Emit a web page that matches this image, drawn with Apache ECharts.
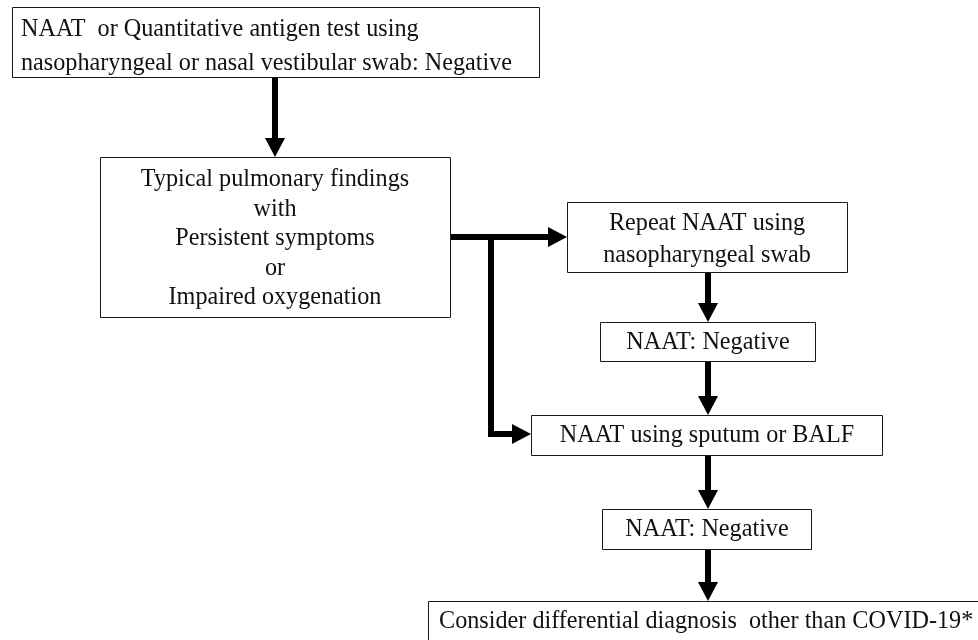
<!DOCTYPE html>
<html>
<head>
<meta charset="utf-8">
<script src="https://cdn.jsdelivr.net/npm/echarts@6/dist/echarts.min.js"></script>
<style>
html,body{margin:0;padding:0;background:#fff;}
#chart{width:978px;height:640px;}
</style>
</head>
<body>
<div id="chart"></div>
<script>
// ---- content ----
const nodeLabels = [
  'NAAT  or Quantitative antigen test using\nnasopharyngeal or nasal vestibular swab: Negative',
  'Typical pulmonary findings\nwith\nPersistent symptoms\nor\nImpaired oxygenation',
  'Repeat NAAT using\nnasopharyngeal swab',
  'NAAT: Negative',
  'NAAT using sputum or BALF',
  'NAAT: Negative',
  'Consider differential diagnosis  other than COVID-19*'
];
// edges: from node -> to node
const edgeFrom = [0, 1, 1, 2, 3, 4, 5];
const edgeTo   = [1, 2, 4, 3, 4, 5, 6];

// ---- layout (pixel space of the 978x640 canvas) ----
const nodeLeft   = [12, 100, 567, 600, 531, 602, 428];
const nodeTop    = [7, 157, 202, 322, 415, 509, 601];
const nodeRight  = [539, 450, 847, 815, 882, 811, 992];
const nodeBottom = [77, 317, 272, 361, 455, 549, 662];
const nodeAlign  = ['left', 'center', 'center', 'center', 'center', 'center', 'left'];
const nodeTextX  = [21, 275, 707, 708, 707, 707, 439];
const nodeTextY  = [46.5, 239, 240, 343, 436, 530, 622];
const nodeLineH  = [34, 29.5, 32, 26, 26, 26, 26];
const edgePaths = [
  [[275, 77], [275, 157]],
  [[450, 237], [567, 237]],
  [[491, 237], [491, 434], [531, 434]],
  [[708, 272], [708, 322]],
  [[708, 361], [708, 415]],
  [[708, 455], [708, 509]],
  [[708, 549], [708, 601]]
];

const FONT = '24.2px "Liberation Serif", "Times New Roman", serif';
const chart = echarts.init(document.getElementById('chart'), null, {renderer: 'canvas'});

function renderNode(params, api) {
  const i = api.value(0);
  const p0 = api.coord([nodeLeft[i], nodeTop[i]]);
  const p1 = api.coord([nodeRight[i], nodeBottom[i]]);
  const tp = api.coord([nodeTextX[i], nodeTextY[i]]);
  const x = Math.round(p0[0]) + 0.5, y = Math.round(p0[1]) + 0.5;
  return {
    type: 'group',
    children: [
      {
        type: 'rect',
        shape: {x: x, y: y, width: Math.round(p1[0] - p0[0]), height: Math.round(p1[1] - p0[1])},
        style: {fill: '#ffffff', stroke: '#1a1a1a', lineWidth: 1}
      },
      {
        type: 'text',
        style: {
          text: nodeLabels[i],
          x: tp[0], y: tp[1],
          font: FONT,
          fill: '#111111',
          align: nodeAlign[i],
          verticalAlign: 'middle',
          lineHeight: nodeLineH[i]
        }
      }
    ]
  };
}

function renderEdge(params, api) {
  const i = api.value(0);
  const pts = edgePaths[i].map(function (p) { return api.coord(p); });
  const n = pts.length;
  const tip = pts[n - 1], prev = pts[n - 2];
  const dx = tip[0] - prev[0], dy = tip[1] - prev[1];
  const len = Math.sqrt(dx * dx + dy * dy);
  const ux = dx / len, uy = dy / len;
  const headLen = 19, headHalf = 10;
  const base = [tip[0] - ux * headLen, tip[1] - uy * headLen];
  const shaft = pts.slice(0, n - 1).concat([[base[0] + ux * 1, base[1] + uy * 1]]);
  const px = -uy, py = ux;
  return {
    type: 'group',
    children: [
      {
        type: 'polyline',
        shape: {points: shaft},
        style: {stroke: '#000000', lineWidth: 6, fill: null, lineJoin: 'miter', lineCap: 'butt'}
      },
      {
        type: 'polygon',
        shape: {points: [
          [tip[0], tip[1]],
          [base[0] + px * headHalf, base[1] + py * headHalf],
          [base[0] - px * headHalf, base[1] - py * headHalf]
        ]},
        style: {fill: '#000000'}
      }
    ]
  };
}

chart.setOption({
  animation: false,
  backgroundColor: '#ffffff',
  grid: {left: 0, right: 0, top: 0, bottom: 0},
  xAxis: {type: 'value', min: 0, max: 978, show: false},
  yAxis: {type: 'value', min: 0, max: 640, inverse: true, show: false},
  series: [
    {
      type: 'custom',
      name: 'connectors',
      coordinateSystem: 'cartesian2d',
      renderItem: renderEdge,
      data: edgeFrom.map(function (f, i) { return [i, f, edgeTo[i]]; }),
      encode: {x: 1, y: 2},
      silent: true,
      z: 1
    },
    {
      type: 'custom',
      name: 'steps',
      coordinateSystem: 'cartesian2d',
      renderItem: renderNode,
      data: nodeLabels.map(function (t, i) { return [i]; }),
      silent: true,
      z: 2
    }
  ]
});
</script>
</body>
</html>
